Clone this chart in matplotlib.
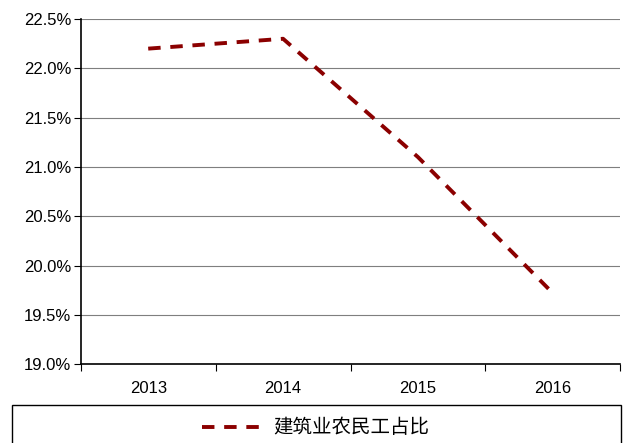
import matplotlib.pyplot as plt
from matplotlib.patches import Rectangle
from matplotlib.ticker import FuncFormatter, MultipleLocator

plt.rcParams['font.family'] = ['Liberation Sans', 'Noto Sans CJK SC', 'DejaVu Sans']

years = ['2013', '2014', '2015', '2016']
share = [22.2, 22.3, 21.1, 19.72]
series_name = '建筑业农民工占比'

fig = plt.figure(figsize=(6.31, 4.43), dpi=100)
ax = fig.add_axes([0.128, 0.178, 0.855, 0.779])

x = list(range(len(years)))
ax.plot(x, share, color='#8B0000', linewidth=2.8, linestyle=(0, (3.2, 2.5)),
        label=series_name)

ax.set_xlim(-0.5, len(years) - 0.5)
ax.set_ylim(19.0, 22.5)
ax.yaxis.set_major_locator(MultipleLocator(0.5))
ax.yaxis.set_major_formatter(FuncFormatter(lambda v, p: f'{v:.1f}%'))
ax.grid(axis='y', color='#7f7f7f', linewidth=0.8)
ax.set_axisbelow(True)

# category labels centred, tick marks between categories
ax.set_xticks([i - 0.5 for i in range(len(years) + 1)])
ax.set_xticklabels([])
ax.set_xticks(x, minor=True)
ax.set_xticklabels(years, minor=True)
ax.tick_params(axis='x', which='minor', length=0, labelsize=12, pad=12)
ax.tick_params(axis='x', which='major', length=5, direction='out', color='black')
ax.tick_params(axis='y', length=5, direction='out', labelsize=12, pad=2)

ax.spines['top'].set_visible(False)
ax.spines['right'].set_visible(False)
ax.spines['left'].set_linewidth(1.2)
ax.spines['bottom'].set_linewidth(1.2)

# legend box at the bottom (cut off by the figure edge)
fig.patches.append(Rectangle((12 / 631, -0.05), 609 / 631, 0.136,
                             transform=fig.transFigure, fill=False,
                             edgecolor='black', linewidth=1.0))
h, l = ax.get_legend_handles_labels()
leg = fig.legend(h, l, loc='center', bbox_to_anchor=(0.5, 0.034), frameon=False,
                 handlelength=3.4, handletextpad=0.3,
                 prop={'family': ['Noto Sans CJK SC'], 'size': 14})

fig.savefig('out.png', dpi=100)
